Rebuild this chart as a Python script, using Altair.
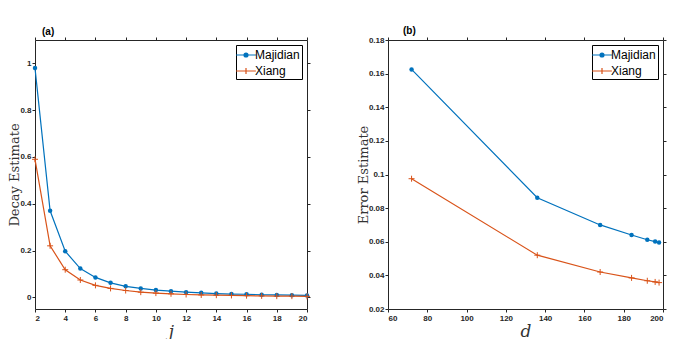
import altair as alt
import pandas as pd

# ---- data ----
series_names = ["Majidian", "Xiang"]
series_colors = ["#0072BD", "#D95319"]

j_vals = [2, 3, 4, 5, 6, 7, 8, 9, 10, 11, 12, 13, 14, 15, 16, 17, 18, 19, 20]
decay_majidian = [0.98, 0.37, 0.197, 0.123, 0.085, 0.062, 0.047, 0.038, 0.031, 0.026,
                  0.022, 0.019, 0.016, 0.014, 0.013, 0.011, 0.010, 0.009, 0.008]
decay_xiang = [0.59, 0.22, 0.118, 0.074, 0.051, 0.038, 0.029, 0.022, 0.018, 0.015,
               0.012, 0.010, 0.009, 0.008, 0.007, 0.006, 0.005, 0.005, 0.004]

d_vals = [72, 136, 168, 184, 192, 196, 198]
err_majidian = [0.1625, 0.0862, 0.0700, 0.0640, 0.0612, 0.0601, 0.0595]
err_xiang = [0.0975, 0.0520, 0.0420, 0.0385, 0.0368, 0.0361, 0.0357]

a_xticks = [2, 4, 6, 8, 10, 12, 14, 16, 18, 20]
a_yticks = [0, 0.2, 0.4, 0.6, 0.8, 1]
b_xticks = [60, 80, 100, 120, 140, 160, 180, 200]
b_yticks = [0.02, 0.04, 0.06, 0.08, 0.1, 0.12, 0.14, 0.16, 0.18]

AX = "#262626"
SANS = "Liberation Sans"
SERIF = "DejaVu Serif"

PLUS = "M-1,0L1,0M0,-1L0,1"
LEG_M = ("M-1.4,0L1.4,0M0.28,0A0.28,0.28,0,1,1,-0.28,0A0.28,0.28,0,1,1,0.28,0"
         "M0.12,0A0.12,0.12,0,1,1,-0.12,0A0.12,0.12,0,1,1,0.12,0")
LEG_X = "M-1.4,0L1.4,0M0,-0.42L0,0.42M-0.42,0L0.42,0"


def panel(xv, y1, y2, xtitle, ytitle, title, title_dx, xdom, ydom, xticks, yticks, w, h):
    df = pd.DataFrame({
        "x": list(xv) + list(xv),
        "y": list(y1) + list(y2),
        "series": [series_names[0]] * len(xv) + [series_names[1]] * len(xv),
    })
    xs = alt.Scale(domain=xdom, nice=False, zero=False)
    ysc = alt.Scale(domain=ydom, nice=False, zero=False)
    cs = alt.Scale(domain=series_names, range=series_colors)
    axis_common = dict(grid=False, domainColor=AX, tickColor=AX, tickSize=3,
                       labelColor=AX, labelFont=SANS, labelFontSize=8,
                       labelFontWeight="bold", titleFont=SERIF, titleColor="#333",
                       titleFontWeight="normal")
    X = alt.X("x:Q", scale=xs, axis=alt.Axis(values=xticks, title=xtitle, labelPadding=2,
                                              titleFontSize=17, titleFontStyle="italic",
                                              titlePadding=1, **axis_common))
    Y = alt.Y("y:Q", scale=ysc, axis=alt.Axis(values=yticks, format="~g", title=ytitle,
                                               labelPadding=1, titleFontSize=13,
                                               titlePadding=-2, **axis_common))
    base = alt.Chart(df)
    lines = base.mark_line(strokeWidth=1.2).encode(
        x=X, y=Y, color=alt.Color("series:N", scale=cs, legend=None))
    pm = base.transform_filter(alt.datum.series == series_names[0]).mark_circle(
        size=20, opacity=1).encode(x=X, y=Y, color=alt.Color("series:N", scale=cs, legend=None))
    px = base.transform_filter(alt.datum.series == series_names[1]).mark_point(
        shape=PLUS, size=36, filled=False, strokeWidth=1, opacity=1).encode(
        x=X, y=Y, color=alt.Color("series:N", scale=cs, legend=None))
    leg_props = dict(title=None, orient="top-right", offset=5, strokeColor="black",
                     fillColor="white", padding=2, labelFont=SANS, labelFontSize=12,
                     labelColor="black", labelOffset=1, symbolSize=200,
                     symbolStrokeWidth=1.2, symbolOpacity=1, rowPadding=2)
    leg = base.mark_point(opacity=0, filled=False).encode(
        x=X, y=Y,
        color=alt.Color("series:N", scale=cs, legend=alt.Legend(**leg_props)),
        shape=alt.Shape("series:N", scale=alt.Scale(domain=series_names, range=[LEG_M, LEG_X]),
                        legend=alt.Legend(**leg_props)))
    inner = alt.layer(lines, pm, px, leg).resolve_legend(color="independent", shape="independent")
    frame = base.mark_point(opacity=0).encode(
        x=alt.X("x:Q", scale=xs, axis=alt.Axis(orient="top", values=xticks, labels=False,
                                                title=None, grid=False, domainColor=AX,
                                                tickColor=AX, tickSize=3)),
        y=alt.Y("y:Q", scale=ysc, axis=alt.Axis(orient="right", values=yticks, labels=False,
                                                 title=None, grid=False, domainColor=AX,
                                                 tickColor=AX, tickSize=3)))
    return alt.layer(inner, frame).resolve_axis(
        x="independent", y="independent").properties(
        width=w, height=h,
        title=alt.Title(title, anchor="start", frame="group", fontSize=10, fontWeight="bold",
                        font=SANS, color="black", dx=title_dx, offset=0))


pa = panel(j_vals, decay_majidian, decay_xiang, "j", "Decay Estimate", "(a)", 7,
           [2, 20], [-0.05, 1.1], a_xticks, a_yticks, 272, 269)
pb = panel(d_vals, err_majidian, err_xiang, "d", "Error Estimate", "(b)", 15,
           [60, 200], [0.02, 0.18], b_xticks, b_yticks, 275, 269)

chart = alt.hconcat(pa, pb, spacing=45).properties(
    padding={"left": 0, "top": 18, "right": 0, "bottom": 0},
    background="white",
).configure_view(stroke=None)

chart.save("out.html", embed_options={"renderer": "svg", "actions": False})
